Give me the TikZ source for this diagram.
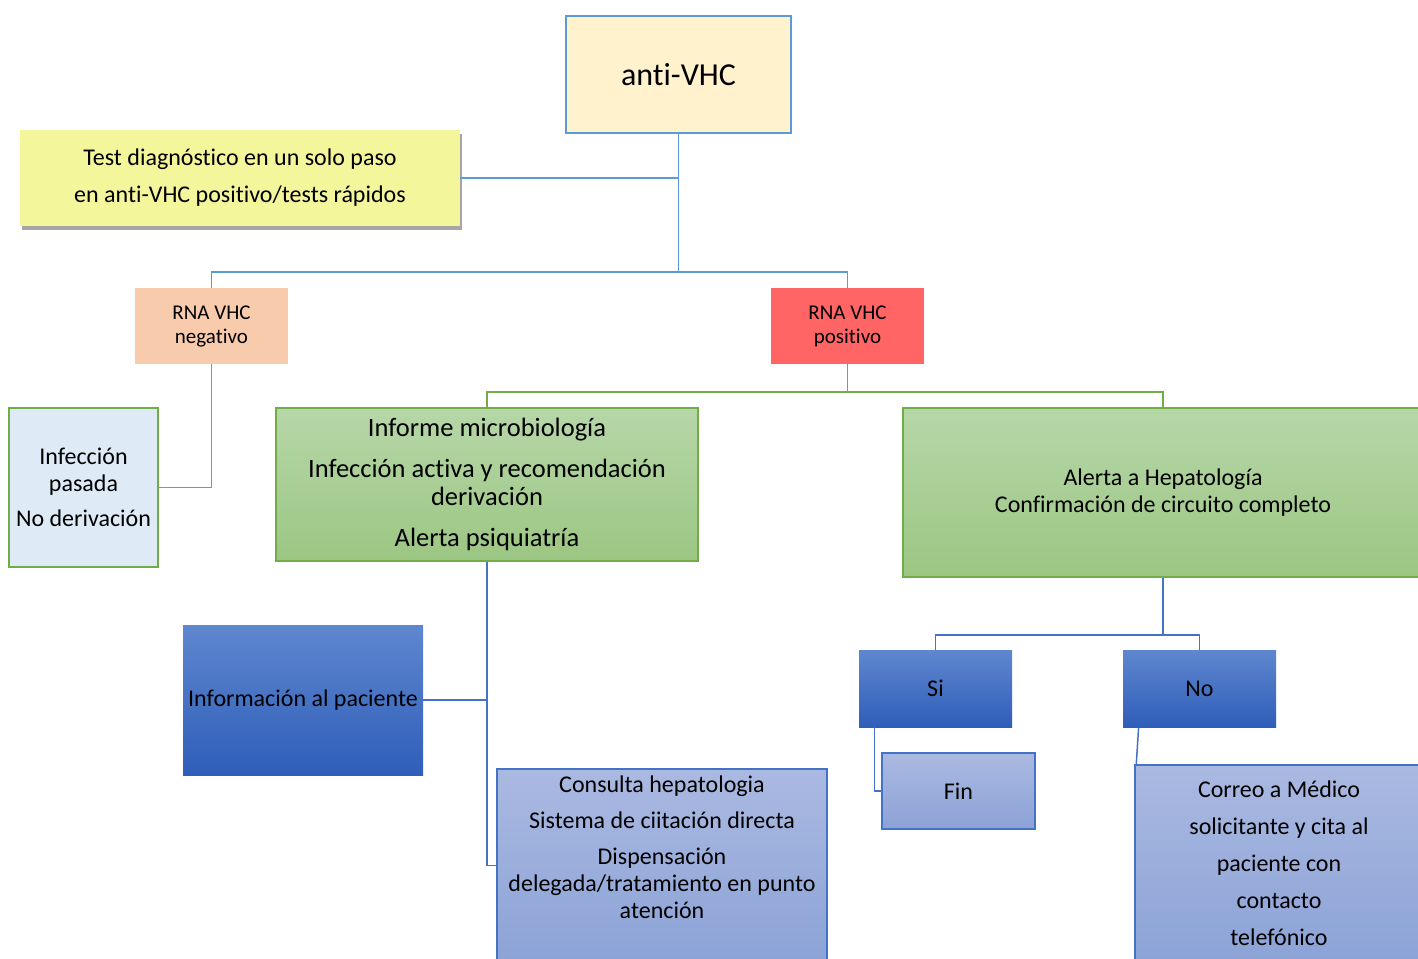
\documentclass[tikz,border=0pt]{standalone}
\usepackage{fontspec}
\setmainfont{Carlito}[Ligatures={NoCommon,NoContextual},Contextuals=NoAlternate]
\usetikzlibrary{shadows}
\definecolor{linkblue}{HTML}{5B9BD5}
\definecolor{linkgreen}{HTML}{70AD47}
\definecolor{linkdark}{HTML}{4472C4}
\definecolor{cream}{HTML}{FFF2CC}
\definecolor{lemon}{HTML}{F3F69B}
\definecolor{peach}{HTML}{F8CBAD}
\definecolor{salmon}{HTML}{FF6565}
\definecolor{paleblue}{HTML}{DEEBF7}
\definecolor{greentop}{HTML}{B6D7A8}
\definecolor{greenbot}{HTML}{9CC683}
\definecolor{bluetop}{HTML}{5F87CF}
\definecolor{bluebot}{HTML}{2F5EB9}
\definecolor{lighttop}{HTML}{AAB9E1}
\definecolor{lightbot}{HTML}{8CA3D7}
\tikzset{
  box/.style={rectangle, inner sep=0pt, align=center, text=black,
              font=\fontsize{12}{13.5}\selectfont},
  greenbox/.style={box, draw=linkgreen, line width=.75pt,
                   top color=greentop, bottom color=greenbot},
  darkbox/.style={box, top color=bluetop, bottom color=bluebot},
  lightbox/.style={box, draw=linkdark, line width=.75pt,
                   top color=lighttop, bottom color=lightbot},
  link/.style={line width=.75pt}
}

\begin{document}
\begin{tikzpicture}[x=0.5pt,y=-0.5pt]
\useasboundingbox (0,0) rectangle (1418,958);
\clip (0,0) rectangle (1418,958);

% Top of the tree: antibody test and one-step note.
\node[box, draw=linkblue, line width=.75pt, fill=cream, minimum width=112.5pt,
  minimum height=58.5pt, font=\fontsize{16}{19}\selectfont] (anti) at (678.5,74.5) {anti-VHC};
\node[box, fill=lemon, minimum width=220pt, minimum height=48pt,
  font=\fontsize{12}{18.5}\selectfont,
  drop shadow={shadow xshift=1pt, shadow yshift=-2pt, fill=black, opacity=.35}]
  (test) at (240,178) {Test diagnóstico en un solo paso\\en anti-VHC positivo/tests rápidos};

% RNA result.
\node[box, fill=peach, minimum width=76.5pt, minimum height=38pt,
  font=\fontsize{10.5}{12}\selectfont] (neg) at (211.5,326) {RNA VHC\\negativo};
\node[box, fill=salmon, minimum width=76.5pt, minimum height=38pt,
  font=\fontsize{10.5}{12}\selectfont] (pos) at (847.5,326) {RNA VHC\\positivo};

\node[box, draw=linkgreen, line width=.75pt, fill=paleblue, minimum width=74.5pt,
  minimum height=79.5pt] (pasada) at (83.5,487.5) {Infección\\pasada\\[4pt]No derivación};
\node[greenbox, minimum width=211pt, minimum height=76.5pt,
  font=\fontsize{13.25}{14}\selectfont] (informe) at (487,484.5)
  {Informe microbiología\\[6.5pt]Infección activa y recomendación\\derivación\\[6.5pt]Alerta psiquiatría};
\node[greenbox, minimum width=260pt, minimum height=84.5pt] (alerta) at (1163,492.5)
  {Alerta a Hepatología\\Confirmación de circuito completo};

% Actions after a positive result.
\node[darkbox, minimum width=120pt, minimum height=75pt] (infopac) at (303,700)
  {Información al paciente};
\node[lightbox, minimum width=165pt, minimum height=96.5pt, text depth=18.5pt]
  (consulta) at (662,865.5)
  {Consulta hepatologia\\[4.5pt]Sistema de ciitación directa\\[4.5pt]Dispensación\\delegada/tratamiento en punto\\atención};

\node[darkbox, minimum width=76.5pt, minimum height=38.5pt] (si) at (935.5,688.5) {Si};
\node[darkbox, minimum width=76.5pt, minimum height=38.5pt] (no) at (1199.5,688.5) {No};
\node[lightbox, minimum width=76.5pt, minimum height=38pt] (fin) at (958.5,791) {Fin};
\node[lightbox, minimum width=144pt, minimum height=98.5pt,
  font=\fontsize{12}{18.5}\selectfont] (correo) at (1279,863.5)
  {Correo a Médico\\solicitante y cita al\\paciente con\\contacto\\telefónico};

% Connectors.
\coordinate (split1) at (678.5,272);
\coordinate (split2) at (847.5,392);
\coordinate (split3) at (1163,635);

\draw[link, linkblue] (anti.south) -- (split1);
\draw[link, linkblue] (test.east) -- (test.east -| anti.south);
\draw[link, linkblue] (neg.north) |- (split1) -| (pos.north);

\draw[link, linkgreen] (neg.south) |- (pasada.east);
\draw[link, linkgreen] (pos.south) -- (split2);
\draw[link, linkgreen] (informe.north) |- (split2) -| (alerta.north);

\draw[link, linkdark] (informe.south) |- (consulta.west);
\draw[link, linkdark] (infopac.east) -- (infopac.east -| informe.south);
\draw[link, linkdark] (alerta.south) -- (split3);
\draw[link, linkdark] (si.north) |- (split3) -| (no.north);
\draw[link, linkdark] ([xshift=8pt]si.south west) |- (fin.west);
\draw[link, linkdark] ([xshift=8pt]no.south west) -- ([xshift=1pt]correo.north west);

\end{tikzpicture}
\end{document}
